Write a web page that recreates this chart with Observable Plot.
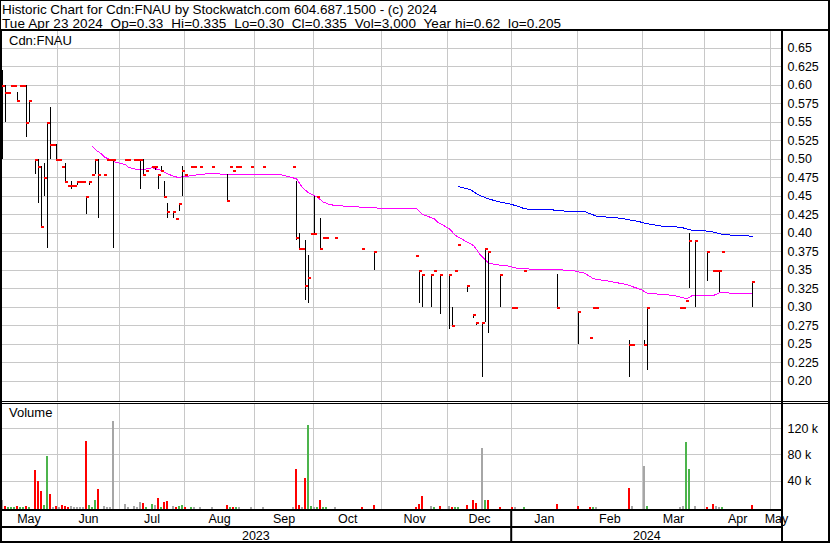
<!DOCTYPE html>
<html><head><meta charset="utf-8">
<script src="https://cdn.jsdelivr.net/npm/d3@7"></script>
<script src="https://cdn.jsdelivr.net/npm/@observablehq/plot@0.6"></script>
<style>
html,body{margin:0;padding:0;background:#fff;}
#wrap{position:relative;width:830px;height:543px;overflow:hidden;background:#fff;font-family:"Liberation Sans",Arial,sans-serif;color:#000;}
#wrap > svg{position:absolute;left:0;}
</style></head><body><div id="wrap"></div>
<script>
// ---------- DATA (x = trading session number from the left edge of the chart) ----------
const session = [0,1,2,3,4,5,6,7,8,9,
 11,12,13,14,15,16,17,18,19,20,
 21,22,23,24,25,26,27,28,29,30,
 31,32,34,35,36,37,41,42,44,45,
 46,47,48,50,51,52,53,54,55,57,
 58,59,60,61,63,64,66,70,75,76,
 77,78,79,83,87,97,98,99,100,101,
 102,103,104,105,106,107,108,111,120,124,
 138,139,140,143,144,146,149,150,151,152,
 155,157,158,160,161,162,166,170,171,174,
 185,192,196,197,198,209,210,214,215,226,
 227,228,229,231,235,237,238,239,240,250];
const high = [.62,.60,.59,.60,.60,.59,.60,.60,.60,.58,
 .50,.50,.49,.495,.55,.57,.52,.52,.50,.49,
 .495,.465,.47,.465,.47,.47,.47,.45,.47,.48,
 .50,.50,.48,.50,.50,.50,.50,.50,.50,.50,
 .50,.50,.485,.49,.49,.48,.49,.47,.44,.43,
 .42,.44,.49,.48,.49,.49,.49,.49,.48,.49,
 .485,.49,.49,.49,.49,.49,.47,.40,.38,.39,
 .37,.40,.45,.45,.42,.395,.395,.395,.38,.375,
 .37,.35,.345,.345,.35,.345,.345,.30,.35,.385,
 .33,.29,.28,.28,.38,.375,.345,.30,.30,.35,
 .345,.295,.26,.30,.30,.255,.25,.255,.30,.30,
 .30,.31,.40,.39,.375,.35,.35,.35,.375,.335];
const low = [.50,.55,.59,.60,.60,.58,.60,.60,.53,.55,
 .48,.44,.41,.45,.38,.50,.52,.50,.50,.49,
 .47,.465,.46,.465,.465,.47,.47,.425,.465,.48,
 .48,.42,.48,.50,.50,.38,.50,.50,.50,.50,
 .46,.48,.485,.49,.485,.46,.485,.45,.42,.42,
 .42,.43,.45,.48,.49,.49,.49,.49,.445,.49,
 .485,.49,.49,.49,.49,.49,.39,.38,.38,.31,
 .305,.40,.40,.45,.38,.395,.395,.395,.38,.35,
 .37,.305,.30,.30,.35,.29,.27,.275,.35,.385,
 .32,.285,.275,.205,.28,.265,.30,.30,.30,.35,
 .30,.25,.26,.30,.30,.205,.25,.25,.215,.30,
 .30,.31,.325,.30,.335,.35,.35,.32,.375,.30];
const close = [.60,.59,.59,.60,.60,.58,.60,.60,.55,.58,
 .50,.49,.41,.475,.55,.52,.52,.50,.50,.49,
 .47,.465,.465,.465,.47,.47,.47,.45,.47,.48,
 .50,.48,.48,.50,.50,.50,.50,.50,.50,.50,
 .50,.48,.485,.49,.49,.48,.485,.45,.43,.43,
 .42,.44,.485,.48,.49,.49,.49,.49,.445,.49,
 .485,.49,.49,.49,.49,.49,.395,.38,.38,.33,
 .34,.40,.40,.45,.38,.395,.395,.395,.38,.375,
 .37,.35,.345,.345,.35,.345,.345,.275,.35,.385,
 .33,.29,.28,.28,.38,.375,.345,.30,.30,.35,
 .30,.295,.26,.30,.30,.25,.25,.25,.30,.30,
 .30,.31,.39,.39,.375,.35,.35,.35,.375,.335];
// volume in thousands of shares
const volumeK = [11,2,0.4,0.4,0.4,0.8,0.4,0.4,0.8,0.4,
 56,39.5,24,3,77,20.5,0.4,0.8,0.4,3.5,
 2,0.4,0.8,0.4,0.4,0.4,0.4,100,3,0.4,
 10,26.7,0.8,0.4,0.4,131,5,0.4,0.8,0.4,
 8,6.7,0.4,5,3.6,14,0.4,7,8.7,0.8,
 0.4,0.8,3,0.4,0.4,0.4,0.4,0.4,3,0.4,
 0.4,0.4,0.4,0.4,0.4,0.4,57,3,0.4,44,
 124,0.8,0.2,0.4,10,0.4,0.4,0.4,0.4,3,
 0.4,4,16,2,0.4,2,2,0.4,0.4,0.4,
 3.6,11,6.7,90,10,10,0.4,0.4,0.4,0.4,
 5,2,0.4,0.4,0.4,29,2,62,0.8,0.4,
 0.8,99,57,0.8,0.4,5,2,0.4,0.4,3];
// u = up (green), d = down (red), n = unchanged (grey)
const volumeTone = ["n","d","u","u","u","d","u","u","d","u",
 "d","d","d","u","u","d","n","d","n","d",
 "d","d","n","n","n","n","n","d","u","u",
 "u","d","n","n","n","n","n","n","n","n",
 "n","d","u","u","n","d","u","d","d","n",
 "d","u","u","d","u","n","n","n","d","u",
 "d","u","n","n","n","n","d","d","n","d",
 "u","u","n","u","d","u","u","n","d","d",
 "d","d","d","n","u","d","n","d","u","u",
 "d","d","d","n","u","d","d","d","n","u",
 "d","d","d","u","n","d","n","n","u","n",
 "n","u","u","n","d","d","n","n","u","d"];
// moving averages (magenta, blue)
const maShortSession = [30,31,33,34,36,38,41,42,45,47,48,50,53,55,57,59,60,63,65,68,72,75,93,98,100,102,105,107,109,111,116,123,132,138,140,144,145,149,151,154,157,159,162,165,169,172,183,190,194,197,202,208,213,215,224,228,230,237,239,245,250];
const maShortValue = [0.5176,0.5131,0.5077,0.5032,0.4996,0.4959,0.4932,0.4896,0.4861,0.4861,0.4874,0.4888,0.4851,0.4807,0.4774,0.4753,0.4770,0.4779,0.4793,0.4807,0.4807,0.4793,0.4793,0.4739,0.4618,0.455,0.4491,0.4423,0.4392,0.4378,0.4365,0.4347,0.4334,0.4334,0.4257,0.4199,0.4153,0.4064,0.3973,0.3905,0.3838,0.3726,0.3599,0.3577,0.3558,0.3523,0.3514,0.35,0.3464,0.3388,0.3356,0.3311,0.3239,0.3193,0.3162,0.3118,0.3162,0.3162,0.3199,0.3193,0.3185];
const maLongSession = [152,156,159,162,165,169,172,174,178,183,189,194,198,206,212,215,220,226,230,236,240,245,250];
const maLongValue = [0.4635,0.4591,0.4514,0.4469,0.4432,0.4401,0.4365,0.4334,0.432,0.432,0.4297,0.4297,0.4234,0.4207,0.4162,0.4131,0.4099,0.4085,0.4041,0.4031,0.3986,0.3973,0.3964];
// axes
const priceTicks = [0.20,0.225,0.25,0.275,0.30,0.325,0.35,0.375,0.40,0.425,0.45,0.475,0.50,0.525,0.55,0.575,0.60,0.625,0.65];
const priceTickLabels = ["0.20","0.225","0.25","0.275","0.30","0.325","0.35","0.375","0.40","0.425","0.45","0.475","0.50","0.525","0.55","0.575","0.60","0.625","0.65"];
const volumeTicks = [40,80,120];
const volumeTickLabels = ["40 k","80 k","120 k"];
const monthStarts = [18.33,39,60.67,84,103.77,126.33,148.43,169.57,191.67,213.23,234.1,256];
const monthNames = ["May","Jun","Jul","Aug","Sep","Oct","Nov","Dec","Jan","Feb","Mar","Apr","May"];
const yearNames = ["2023","2024"];
const yearBreak = 169.57;
const titleLine1 = "Historic Chart for Cdn:FNAU by Stockwatch.com 604.687.1500 - (c) 2024";
const titleLine2 = "Tue Apr 23 2024  Op=0.33  Hi=0.335  Lo=0.30  Cl=0.335  Vol=3,000  Year hi=0.62  lo=0.205";
const symbolLabel = "Cdn:FNAU";
const volumeLabel = "Volume";

// ---------- BUILD ----------
const X_DOMAIN = [-2/3, 260];
const GRID = "#c8c8c8";
const FONT = "'Liberation Sans', Arial, sans-serif";
const toneColor = {u: "#4cb44c", d: "#ff0000", n: "#a6a6a6"};
const bars = session.map((s, i) => ({s, hi: high[i], lo: low[i], cl: close[i], v: volumeK[i], t: volumeTone[i]}));
const maShort = maShortSession.map((s, i) => ({s, v: maShortValue[i]}));
const maLong = maLongSession.map((s, i) => ({s, v: maLongValue[i]}));
const base = {width: 830, marginLeft: 0, marginRight: 48, marginTop: 0, marginBottom: 0,
  style: {background: "transparent", overflow: "visible", fontFamily: FONT, fontSize: "12.5px", color: "#000"}};
const crisp = {shapeRendering: "crispEdges"};

const wrap = document.getElementById("wrap");

const pricePlot = Plot.plot({
  ...base, height: 370,
  x: {domain: X_DOMAIN, axis: null},
  y: {domain: [0.17297, 0.67297], axis: null},
  marks: [
    Plot.ruleY(priceTicks, {stroke: GRID, ...crisp}),
    Plot.ruleX(monthStarts, {stroke: GRID, ...crisp}),
    Plot.text(priceTicks, {x: X_DOMAIN[1], y: d => d, text: (d, i) => priceTickLabels[i], textAnchor: "start", dx: 5, fill: "#000"}),
    Plot.line(maShort, {x: "s", y: "v", stroke: "#ff00ff", strokeWidth: 1, ...crisp}),
    Plot.line(maLong, {x: "s", y: "v", stroke: "#0000ff", strokeWidth: 1, ...crisp}),
    Plot.ruleX(bars.filter(d => d.hi > d.lo), {x: "s", y1: "lo", y2: "hi", stroke: "#000", strokeWidth: 1, ...crisp}),
    Plot.ruleY(bars, {y: "cl", x1: "s", x2: d => d.s + 0.9, stroke: "#ff0000", strokeWidth: 2, dy: 0.5, ...crisp})
  ]
});
pricePlot.style.top = "31px";
wrap.appendChild(pricePlot);

const volPlot = Plot.plot({
  ...base, height: 106,
  x: {domain: X_DOMAIN, axis: null},
  y: {domain: [-3.04, 158.05], axis: null},
  marks: [
    Plot.ruleY(volumeTicks, {stroke: GRID, ...crisp}),
    Plot.ruleX(monthStarts, {stroke: GRID, ...crisp}),
    Plot.text(volumeTicks, {x: X_DOMAIN[1], y: d => d, text: (d, i) => volumeTickLabels[i], textAnchor: "start", dx: 5, fill: "#000"}),
    Plot.rect(bars, {x1: d => d.s - 1/3, x2: d => d.s + 1/3, y1: -3.04, y2: "v", fill: d => toneColor[d.t], ...crisp})
  ]
});
volPlot.style.top = "403px";
wrap.appendChild(volPlot);

const mEdges = [X_DOMAIN[0], ...monthStarts, X_DOMAIN[1]];
const monthLabels = monthNames.map((t, i) => ({t, x: (mEdges[i] + mEdges[i + 1]) / 2}));
const yEdges = [X_DOMAIN[0], yearBreak, X_DOMAIN[1]];
const yearLabels = yearNames.map((t, i) => ({t, x: (yEdges[i] + yEdges[i + 1]) / 2}));
const stripPlot = Plot.plot({
  ...base, height: 30,
  x: {domain: X_DOMAIN, axis: null},
  marks: [
    Plot.text(monthLabels, {x: "x", text: "t", frameAnchor: "top", lineAnchor: "middle", dy: 7.7, fill: "#000"}),
    Plot.text(yearLabels, {x: "x", text: "t", frameAnchor: "top", lineAnchor: "middle", dy: 24, fill: "#000"}),
    Plot.ruleX([yearBreak], {stroke: "#000", strokeWidth: 2})
  ]
});
stripPlot.style.top = "511px";
wrap.appendChild(stripPlot);

// frame lines and texts
const ov = d3.create("svg").attr("width", 830).attr("height", 543).style("top", "0px")
  .style("font-family", FONT).style("pointer-events", "none");
const lines = [
  [0,0,830,1],[0,0,1,543],[1,31,1,510],[828,0,2,543],[0,541,830,2],
  [0,29,830,2],[781,31,2,510],[0,401,830,1],[0,403,830,1],
  [0,509,782,2],[0,526,782,2]
];
ov.selectAll("rect").data(lines).join("rect")
  .attr("x", d => d[0]).attr("y", d => d[1]).attr("width", d => d[2]).attr("height", d => d[3]).attr("fill", "#000");
ov.append("text").attr("x", 2).attr("y", 14).attr("font-size", 13.5).attr("textLength", 435).attr("lengthAdjust", "spacing").style("white-space", "pre").text(titleLine1);
ov.append("text").attr("x", 2).attr("y", 28).attr("font-size", 13.5).attr("textLength", 559).attr("lengthAdjust", "spacing").style("white-space", "pre").text(titleLine2);
ov.append("text").attr("x", 9).attr("y", 45).attr("font-size", 13).text(symbolLabel);
ov.append("text").attr("x", 9).attr("y", 417).attr("font-size", 13).text(volumeLabel);
wrap.appendChild(ov.node());
</script></body></html>
